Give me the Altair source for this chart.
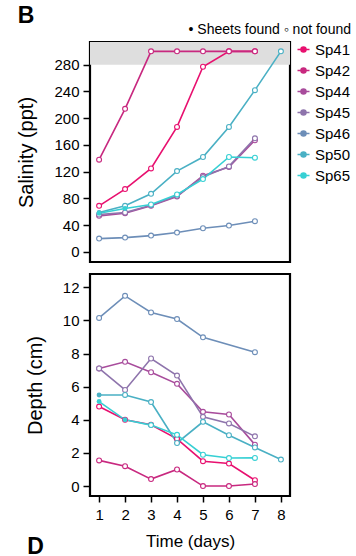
import altair as alt
import pandas as pd

species = ["Sp41", "Sp42", "Sp44", "Sp45", "Sp46", "Sp50", "Sp65"]
colors = ["#e8106f", "#c8287f", "#a84c9c", "#8e74ac", "#6d8eb8", "#4ab0c4", "#36d0d4"]
days = [1, 2, 3, 4, 5, 6, 7, 8]

# Salinity (ppt), None = no measurement
sal_sp41 = [69, 94, 125, 187, 277, 300, 300, None]
sal_sp42 = [138, 214, 300, 300, 300, 300, 300, None]
sal_sp44 = [54, 58, 69, 83, 114, 127, 167, None]
sal_sp45 = [56, 59, 70, 84, 112, 128, 170, None]
sal_sp46 = [20, 21.5, 24.5, 29, 35.5, 39.5, 46, None]
sal_sp50 = [59, 69, 87, 121, 142, 187, 242, 300]
sal_sp65 = [58, 65, 71, 86, 109, 142, 141, None]

# Depth (cm)
dep_sp41 = [4.8, 4.0, 3.7, 2.85, 1.5, 1.36, 0.35, None]
dep_sp42 = [1.55, 1.2, 0.42, 1.0, 0.0, 0.0, 0.12, None]
dep_sp44 = [7.1, 7.5, 6.87, 6.17, 4.48, 4.32, 2.5, None]
dep_sp45 = [7.1, 5.8, 7.7, 6.67, 4.18, 3.78, 3.0, None]
dep_sp46 = [10.15, 11.48, 10.48, 10.08, 8.98, None, 8.08, None]
dep_sp50 = [5.5, 5.5, 5.07, 2.6, 3.88, 3.07, 2.33, 1.6]
dep_sp65 = [5.1, 4.0, 3.68, 3.09, 1.89, 1.69, 1.7, None]

# Sheets found (filled markers): (species, day)
found = [("Sp50", 1), ("Sp65", 1), ("Sp65", 2)]

sal_y_ticks = [0, 40, 80, 120, 160, 200, 240, 280]
dep_y_ticks = [0, 2, 4, 6, 8, 10, 12]
sal_domain = [-15, 314]
dep_domain = [-0.6, 12.8]
x_domain = [0.65, 8.35]
shade = {"y": [280], "y2": [314]}

sal = dict(zip(species, [sal_sp41, sal_sp42, sal_sp44, sal_sp45, sal_sp46, sal_sp50, sal_sp65]))
dep = dict(zip(species, [dep_sp41, dep_sp42, dep_sp44, dep_sp45, dep_sp46, dep_sp50, dep_sp65]))


def long(d):
    rows = []
    for sp, vals in d.items():
        for day, v in zip(days, vals):
            if v is not None:
                rows.append({"sp": sp, "day": day, "v": v, "found": (sp, day) in found})
    return pd.DataFrame(rows)


df_sal = long(sal)
df_dep = long(dep)

FONT = "Liberation Sans"
legend_symbol = "M-1,0H1M0.42,0A0.42,0.42,0,1,1,-0.42,0A0.42,0.42,0,1,1,0.42,0"

legend = alt.Legend(
    title=None,
    orient="right",
    offset=6,
    padding=0,
    symbolType=legend_symbol,
    symbolSize=144,
    symbolStrokeWidth=1.5,
    symbolOpacity=1,
    labelFontSize=15,
    labelFont=FONT,
    labelColor="black",
    rowPadding=5,
    labelOffset=4,
)


def y_axis(yticks, ytitle):
    return alt.Axis(
        values=yticks, grid=False, domain=False, title=ytitle, labelOverlap=False,
        tickSize=7, tickWidth=1.5, tickColor="black",
        labelFontSize=15, labelFont=FONT, labelColor="black", labelPadding=4,
        titleFontSize=20, titleFont=FONT, titleFontWeight="normal", titleColor="black",
        titlePadding=17,
    )


def panel(df, ydomain, yticks, ytitle, show_x, height, shade_df=None, title=None, show_legend=False):
    yscale = alt.Scale(domain=ydomain, nice=False, zero=False)
    if show_x:
        x = alt.X(
            "day:Q",
            scale=alt.Scale(domain=x_domain, nice=False, zero=False),
            axis=alt.Axis(
                values=days, format="d", grid=False, domain=False,
                title="Time (days)",
                tickSize=6, tickWidth=1.5, tickColor="black",
                labelFontSize=15, labelFont=FONT, labelColor="black", labelPadding=5,
                titleFontSize=17, titleFont=FONT, titleFontWeight="normal", titleColor="black",
                titlePadding=11,
            ),
        )
    else:
        x = alt.X("day:Q", scale=alt.Scale(domain=x_domain, nice=False, zero=False), axis=None)
    y = alt.Y("v:Q", scale=yscale, axis=y_axis(yticks, ytitle))
    color = alt.Color(
        "sp:N",
        scale=alt.Scale(domain=species, range=colors),
        legend=legend if show_legend else None,
    )
    base = alt.Chart(df).encode(x=x, y=y, color=color, detail="sp:N")
    line = base.mark_line(strokeWidth=1.6)
    openpts = base.transform_filter("!datum.found").mark_point(
        shape="circle", filled=False, fill="white", fillOpacity=1, size=24, strokeWidth=1.1, opacity=1
    )
    fullpts = base.transform_filter("datum.found").mark_point(
        shape="circle", filled=True, size=24, opacity=1
    )
    layers = [line, openpts, fullpts]
    if shade_df is not None:
        rect = alt.Chart(shade_df).mark_rect(color="#dedede").encode(
            y=alt.Y("y:Q", scale=yscale, axis=y_axis(yticks, ytitle)),
            y2="y2:Q",
        )
        layers = [rect] + layers
    ch = alt.layer(*layers).properties(width=200, height=height)
    if title is not None:
        ch = ch.properties(title=title)
    return ch


top = panel(
    df_sal, sal_domain, sal_y_ticks, "Salinity (ppt)", False, 220,
    shade_df=pd.DataFrame(shade), show_legend=True,
    title=alt.TitleParams("\u2022 Sheets found    \u25e6 not found", anchor="end", fontSize=14,
                          font=FONT, fontWeight="normal", color="black", offset=5),
)
bottom = panel(
    df_dep, dep_domain, dep_y_ticks, "Depth (cm)", True, 222,
    title=alt.TitleParams("D", orient="bottom", anchor="start", frame="bounds", fontSize=23,
                          font=FONT, fontWeight="bold", color="black", offset=-13, dx=2),
)

chart = alt.vconcat(top, bottom, spacing=8).properties(
    title=alt.TitleParams("B", anchor="start", frame="bounds", fontSize=23, font=FONT,
                          fontWeight="bold", color="black", offset=-4, dx=2, dy=2),
    padding={"left": 15, "top": 4, "right": 0, "bottom": 0},
    background="white",
).resolve_legend(color="independent").configure_view(stroke="black", strokeWidth=2.2)

chart.save("out.html", embed_options={"renderer": "svg", "actions": False})
